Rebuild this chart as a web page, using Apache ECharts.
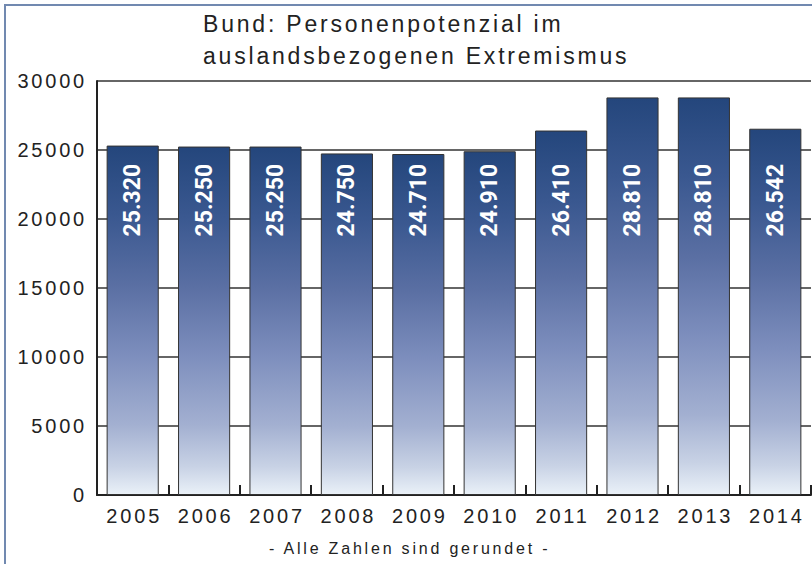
<!DOCTYPE html>
<html>
<head>
<meta charset="utf-8">
<script src="https://cdn.jsdelivr.net/npm/echarts@6/dist/echarts.min.js"></script>
<style>
html,body{margin:0;padding:0;background:#fff;}
#chart{width:812px;height:564px;}
#chart text{letter-spacing:2.8px;}
#chart text[fill="#fff"], #chart text[fill="#ffffff"], #chart text[fill="rgb(255,255,255)"], #chart text[fill="white"]{letter-spacing:0;}
</style>
</head>
<body>
<div id="chart"></div>
<script>
const titleLines = ['Bund: Personenpotenzial im', 'auslandsbezogenen Extremismus'];
const footnote = '- Alle Zahlen sind gerundet -';
const years = ['2005','2006','2007','2008','2009','2010','2011','2012','2013','2014'];
const values = [25320, 25250, 25250, 24750, 24710, 24910, 26410, 28810, 28810, 26542];
const yMin = 0, yMax = 30000, yStep = 5000;

function fmtDE(v){
  const t = Math.floor(v/1000), r = v % 1000;
  return t + '.' + String(r).padStart(3,'0');
}

const chart = echarts.init(document.getElementById('chart'), null, {renderer:'svg'});
const font = '"Liberation Sans", Arial, Helvetica, sans-serif';
const LABEL_TOP_LEVEL = 24000; // labels share a common top line in the reference

function buildOption(distances){
  return {
    animation:false,
    backgroundColor:'#fff',
    graphic:[
      {type:'rect', shape:{x:5, y:5, width:900, height:700}, style:{fill:'none', stroke:'#7189b0', lineWidth:2}, z:-1},
      {type:'text', left:203, top:8, style:{text:titleLines.join('\n'), font:'23px '+font, fill:'#222', lineHeight:32}},
      {type:'text', left:269, top:540, style:{text:footnote, font:'16px '+font, fill:'#222'}}
    ],
    grid:{left:97, right:1, top:81, bottom:69, containLabel:false},
    xAxis:{
      type:'category', data:years, boundaryGap:true,
      axisLine:{lineStyle:{color:'#222', width:2}},
      axisTick:{show:true, inside:true, length:10, lineStyle:{color:'#222', width:2}},
      axisLabel:{color:'#222', fontSize:20, fontFamily:font, margin:11, padding:[0,0,0,3]}
    },
    yAxis:{
      type:'value', min:yMin, max:yMax, interval:yStep,
      axisLine:{show:true, lineStyle:{color:'#222', width:2}},
      axisTick:{show:false},
      splitLine:{show:true, lineStyle:{color:'#333', width:1.5}},
      axisLabel:{color:'#222', fontSize:20, fontFamily:font, margin:10, padding:[7,0,0,0], formatter:v=>String(v)}
    },
    series:[{
      type:'bar',
      data:values.map((v,i)=>({value:v, label:{distance:distances ? distances[i] : 16}})),
      barWidth:'73%',
      itemStyle:{
        borderColor:'#333', borderWidth:1,
        color:new echarts.graphic.LinearGradient(0,0,0,1,[
          {offset:0, color:'#24467c'},
          {offset:0.2, color:'#3a5890'},
          {offset:0.4, color:'#5a6fa3'},
          {offset:0.6, color:'#7d8ebd'},
          {offset:0.8, color:'#a3b0d1'},
          {offset:0.92, color:'#c8d2e5'},
          {offset:1, color:'#eaf1f8'}
        ])
      },
      label:{
        show:true, position:'insideTop', rotate:90, align:'right', verticalAlign:'middle',
        color:'#fff', fontSize:23, fontWeight:'bold', fontFamily:'Roboto, "Liberation Sans", Arial, sans-serif',
        formatter:p=>fmtDE(p.value)
      }
    }]
  };
}
chart.setOption(buildOption(null));
const topPx = chart.convertToPixel({yAxisIndex:0}, LABEL_TOP_LEVEL);
const distances = values.map(v => topPx - chart.convertToPixel({yAxisIndex:0}, v));
chart.setOption(buildOption(distances));
</script>
</body>
</html>
